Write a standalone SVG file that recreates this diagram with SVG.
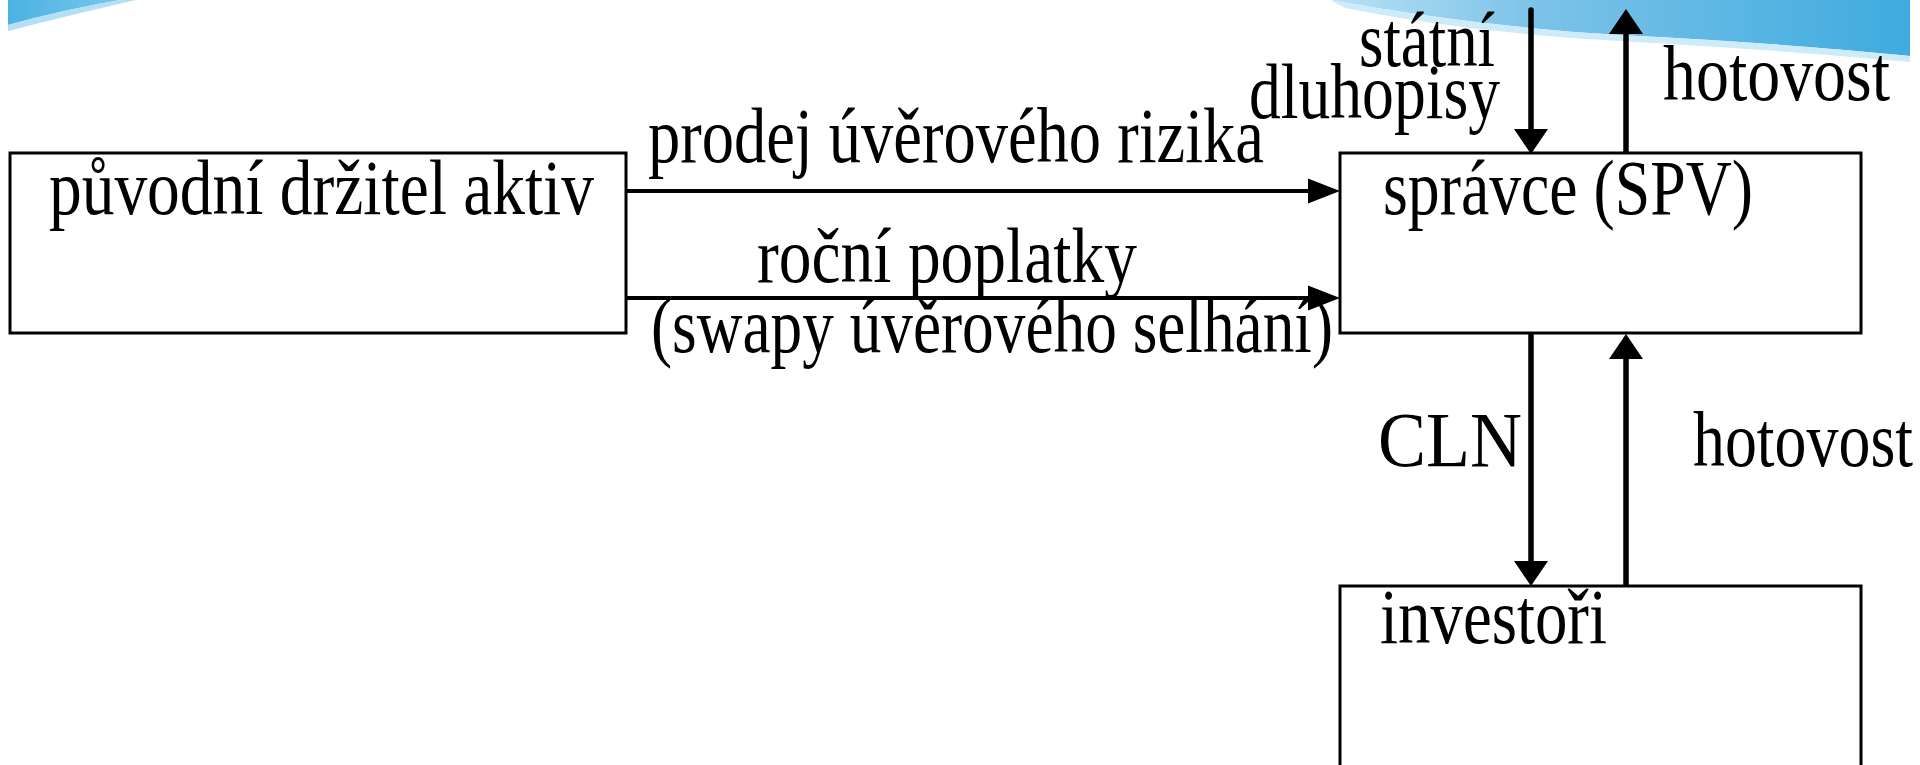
<svg xmlns="http://www.w3.org/2000/svg" width="1920" height="765" viewBox="0 0 1920 765">
  <defs>
    <linearGradient id="waveGrad" x1="1330" y1="0" x2="1910" y2="0" gradientUnits="userSpaceOnUse">
      <stop offset="0" stop-color="#b9e1f4"/>
      <stop offset="0.35" stop-color="#7cc3e8"/>
      <stop offset="1" stop-color="#3fabdf"/>
    </linearGradient>
    <linearGradient id="swooshGrad" x1="8" y1="0" x2="125" y2="0" gradientUnits="userSpaceOnUse">
      <stop offset="0" stop-color="#4ab2e2"/>
      <stop offset="1" stop-color="#7cc8ec"/>
    </linearGradient>
    <marker id="arrH" markerUnits="userSpaceOnUse" markerWidth="32" markerHeight="25" refX="12" refY="12.5" orient="auto" overflow="visible">
      <path d="M0,0 L32,12.5 L0,25 Z" fill="#000"/>
    </marker>
    <marker id="arrV" markerUnits="userSpaceOnUse" markerWidth="25" markerHeight="34" refX="15" refY="17" orient="auto" overflow="visible">
      <path d="M0,0 L25,17 L0,34 Z" fill="#000"/>
    </marker>
  </defs>
  <style>
    .box { fill: #fff; stroke: #000; stroke-width: 3; }
    .lbl { font-family: "Liberation Serif", "Times New Roman", serif; font-size: 78px; fill: #000; }
    .h { stroke: #000; stroke-width: 4; fill: none; marker-end: url(#arrH); }
    .v { stroke: #000; stroke-width: 5.5; fill: none; marker-end: url(#arrV); }
  </style>

  <rect x="0" y="0" width="1920" height="765" fill="#fff"/>

  <g id="background">
    <path d="M8,0 L8,25 Q62,10 120,0 Z" fill="url(#swooshGrad)"/>
    <path d="M8,25 Q62,10 120,0 L136,0 Q66,16 8,31 Z" fill="#b3e0f5"/>
    <path d="M1330,0 Q1480,27 1620,35 Q1780,43 1910,56 L1910,0 Z" fill="url(#waveGrad)"/>
    <path d="M1330,0 Q1480,27 1620,35 Q1780,43 1910,56 L1910,62 Q1780,50 1620,41 Q1470,33 1345,8 Z" fill="#cdebf8"/>
  </g>

  <g id="node-puvodni">
    <rect class="box" x="10" y="153" width="616" height="180"/>
    <text class="lbl" x="49" y="214" textLength="545" lengthAdjust="spacingAndGlyphs">původní držitel aktiv</text>
  </g>

  <g id="node-spravce">
    <rect class="box" x="1340" y="153" width="521" height="180"/>
    <text class="lbl" x="1383" y="214" textLength="370" lengthAdjust="spacingAndGlyphs">správce (SPV)</text>
  </g>

  <g id="node-investori">
    <rect class="box" x="1340" y="586" width="521" height="200"/>
    <text class="lbl" x="1380" y="643" textLength="227" lengthAdjust="spacingAndGlyphs">investoři</text>
  </g>

  <g id="connectors">
    <line class="h" x1="626" y1="191" x2="1320" y2="191"/>
    <line class="h" x1="626" y1="298" x2="1320" y2="298"/>
    <line class="v" x1="1531" y1="10" x2="1531" y2="144" stroke-linecap="round"/>
    <line class="v" x1="1626" y1="153" x2="1626" y2="19"/>
    <line class="v" x1="1531" y1="333" x2="1531" y2="576"/>
    <line class="v" x1="1626" y1="586" x2="1626" y2="344"/>
  </g>

  <g id="labels">
    <text class="lbl" x="648" y="162" textLength="616" lengthAdjust="spacingAndGlyphs">prodej úvěrového rizika</text>
    <text class="lbl" x="757" y="282" textLength="380" lengthAdjust="spacingAndGlyphs">roční poplatky</text>
    <text class="lbl" x="651" y="352" textLength="682" lengthAdjust="spacingAndGlyphs">(swapy úvěrového selhání)</text>
    <text class="lbl" x="1359" y="66" textLength="136" lengthAdjust="spacingAndGlyphs">státní</text>
    <text class="lbl" x="1249" y="118" textLength="251" lengthAdjust="spacingAndGlyphs">dluhopisy</text>
    <text class="lbl" x="1663" y="100" textLength="227" lengthAdjust="spacingAndGlyphs">hotovost</text>
    <text class="lbl" x="1378" y="466" textLength="144" lengthAdjust="spacingAndGlyphs">CLN</text>
    <text class="lbl" x="1693" y="466" textLength="220" lengthAdjust="spacingAndGlyphs">hotovost</text>
  </g>
</svg>
